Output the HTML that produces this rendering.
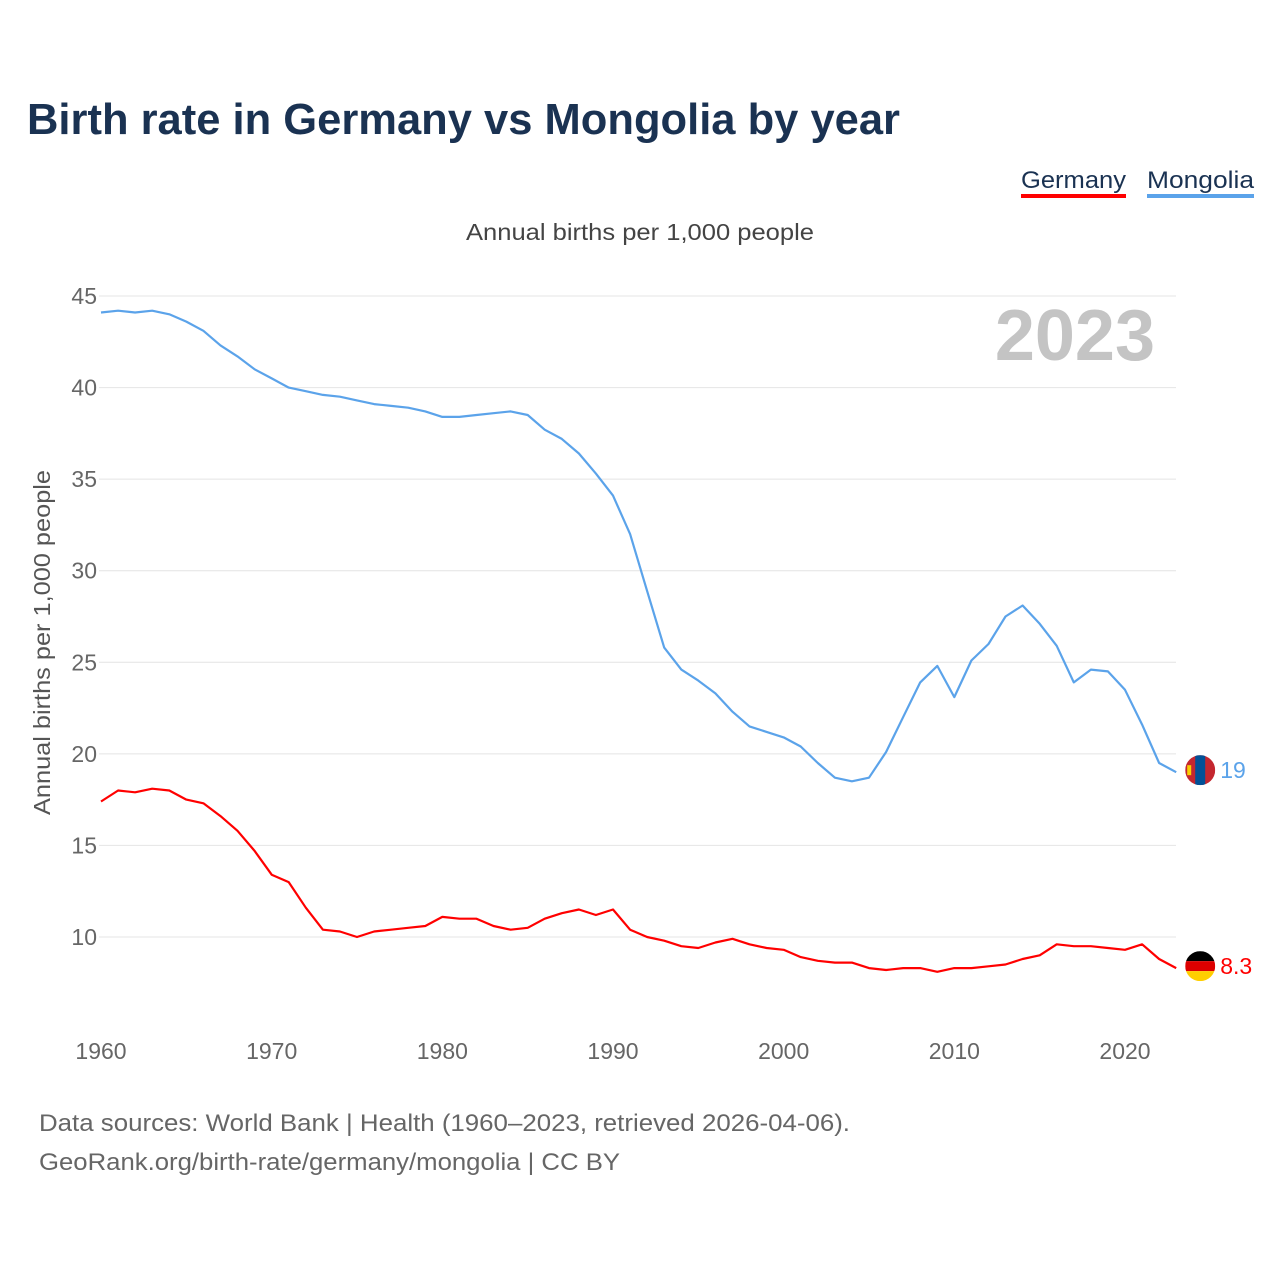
<!DOCTYPE html>
<html><head><meta charset="utf-8">
<style>
html,body{margin:0;padding:0;background:#fff;}
body{width:1280px;height:1280px;overflow:hidden;font-family:"Liberation Sans",sans-serif;}
</style></head>
<body>
<svg id="chart" width="1280" height="1280" xmlns="http://www.w3.org/2000/svg" font-family="Liberation Sans, sans-serif">
<text x="27" y="134" font-size="44" font-weight="bold" fill="#1a3252" textLength="873" lengthAdjust="spacingAndGlyphs">Birth rate in Germany vs Mongolia by year</text>
<g>
<text x="1021" y="188" font-size="24" fill="#1a3252" textLength="105" lengthAdjust="spacingAndGlyphs">Germany</text>
<rect x="1021" y="194" width="105" height="4" fill="#ff0000"/>
</g>
<g>
<text x="1147" y="188" font-size="24" fill="#1a3252" textLength="107" lengthAdjust="spacingAndGlyphs">Mongolia</text>
<rect x="1147" y="194" width="107" height="4" fill="#5ba3ea"/>
</g>
<text x="466" y="240" font-size="23" fill="#444" textLength="348" lengthAdjust="spacingAndGlyphs">Annual births per 1,000 people</text>
<text transform="translate(50,815) rotate(-90)" font-size="23" fill="#555" textLength="345" lengthAdjust="spacingAndGlyphs">Annual births per 1,000 people</text>
<text x="1155" y="360" text-anchor="end" font-size="72" font-weight="bold" fill="#c4c4c4">2023</text>
<g id="grid"></g>
<g id="xticks"></g>
<g id="series"></g>
<text x="39" y="1131" font-size="24" fill="#666" textLength="811" lengthAdjust="spacingAndGlyphs">Data sources: World Bank | Health (1960–2023, retrieved 2026-04-06).</text>
<text x="39" y="1170" font-size="24" fill="#666" textLength="581" lengthAdjust="spacingAndGlyphs">GeoRank.org/birth-rate/germany/mongolia | CC BY</text>
</svg>
<script>
const years = Array.from({length:64},(_,i)=>1960+i);
const mongolia = [44.1,44.2,44.1,44.2,44.0,43.6,43.1,42.3,41.7,41.0,40.5,40.0,39.8,39.6,39.5,39.3,39.1,39.0,38.9,38.7,38.4,38.4,38.5,38.6,38.7,38.5,37.7,37.2,36.4,35.3,34.1,32.0,28.9,25.8,24.6,24.0,23.3,22.3,21.5,21.2,20.9,20.4,19.5,18.7,18.5,18.7,20.1,22.0,23.9,24.8,23.1,25.1,26.0,27.5,28.1,27.1,25.9,23.9,24.6,24.5,23.5,21.6,19.5,19.0];
const germany = [17.4,18.0,17.9,18.1,18.0,17.5,17.3,16.6,15.8,14.7,13.4,13.0,11.6,10.4,10.3,10.0,10.3,10.4,10.5,10.6,11.1,11.0,11.0,10.6,10.4,10.5,11.0,11.3,11.5,11.2,11.5,10.4,10.0,9.8,9.5,9.4,9.7,9.9,9.6,9.4,9.3,8.9,8.7,8.6,8.6,8.3,8.2,8.3,8.3,8.1,8.3,8.3,8.4,8.5,8.8,9.0,9.6,9.5,9.5,9.4,9.3,9.6,8.8,8.3];
const yTicks = [10,15,20,25,30,35,40,45];
const xTicks = [1960,1970,1980,1990,2000,2010,2020];
const endLabels = ["19","8.3"];

const NS="http://www.w3.org/2000/svg";
const X = y => 101 + (y-1960)*(1125-101)/60;
const Y = v => 937 - (v-10)*(937-296)/35;
function mk(tag, attrs, parent){const e=document.createElementNS(NS,tag);for(const k in attrs)e.setAttribute(k,attrs[k]);parent.appendChild(e);return e;}
const grid=document.getElementById('grid');
yTicks.forEach(t=>{
  const l=mk('line',{x1:99,x2:1176,y1:Y(t),y2:Y(t),stroke:'#e4e4e4','stroke-width':1},grid);
  
  
  const tx=mk('text',{x:97,y:Y(t)+8,'text-anchor':'end','font-size':23,fill:'#666'},grid);
  tx.textContent=t;
  
  
});
const xt=document.getElementById('xticks');
xTicks.forEach(t=>{
  const tx=mk('text',{x:X(t),y:1059,'text-anchor':'middle','font-size':23,fill:'#666'},xt);
  tx.textContent=t;
  
  
});
const s=document.getElementById('series');
function line(vals,color,name){
  const d=vals.map((v,i)=>(i?'L':'M')+X(years[i]).toFixed(1)+','+Y(v).toFixed(1)).join('');
  const p=mk('path',{d:d,fill:'none',stroke:color,'stroke-width':2.2,'stroke-linejoin':'round'},s);
  
  
}
line(mongolia,'#5ba3ea','mongolia-line');
line(germany,'#ff0000','germany-line');
const lx=X(2023)+24;
const mg=mk('g',{},s);


const my=Y(mongolia[63])-2;
const cpm=mk('clipPath',{id:'cm'},mg);
mk('circle',{cx:lx,cy:my,r:15},cpm);
mk('rect',{x:lx-15,y:my-15,width:30,height:30,fill:'#c4272f','clip-path':'url(#cm)'},mg);
mk('rect',{x:lx-5,y:my-15,width:10,height:30,fill:'#015197','clip-path':'url(#cm)'},mg);
mk('rect',{x:lx-13,y:my-5,width:4,height:10,fill:'#f9cf02'},mg);
const ml=mk('text',{x:lx+20,y:my+8,'font-size':23,fill:'#5ba3ea'},s);
ml.textContent=endLabels[0];


const gg=mk('g',{},s);


const gy=Y(germany[63])-2;
const cp=mk('clipPath',{id:'cg'},gg);
mk('circle',{cx:lx,cy:gy,r:15},cp);
mk('rect',{x:lx-15,y:gy-15,width:30,height:10,fill:'#000','clip-path':'url(#cg)'},gg);
mk('rect',{x:lx-15,y:gy-5,width:30,height:10,fill:'#dd0000','clip-path':'url(#cg)'},gg);
mk('rect',{x:lx-15,y:gy+5,width:30,height:10,fill:'#ffce00','clip-path':'url(#cg)'},gg);
const gl=mk('text',{x:lx+20,y:gy+8,'font-size':23,fill:'#ff0000'},s);
gl.textContent=endLabels[1];


</script>
</body></html>
